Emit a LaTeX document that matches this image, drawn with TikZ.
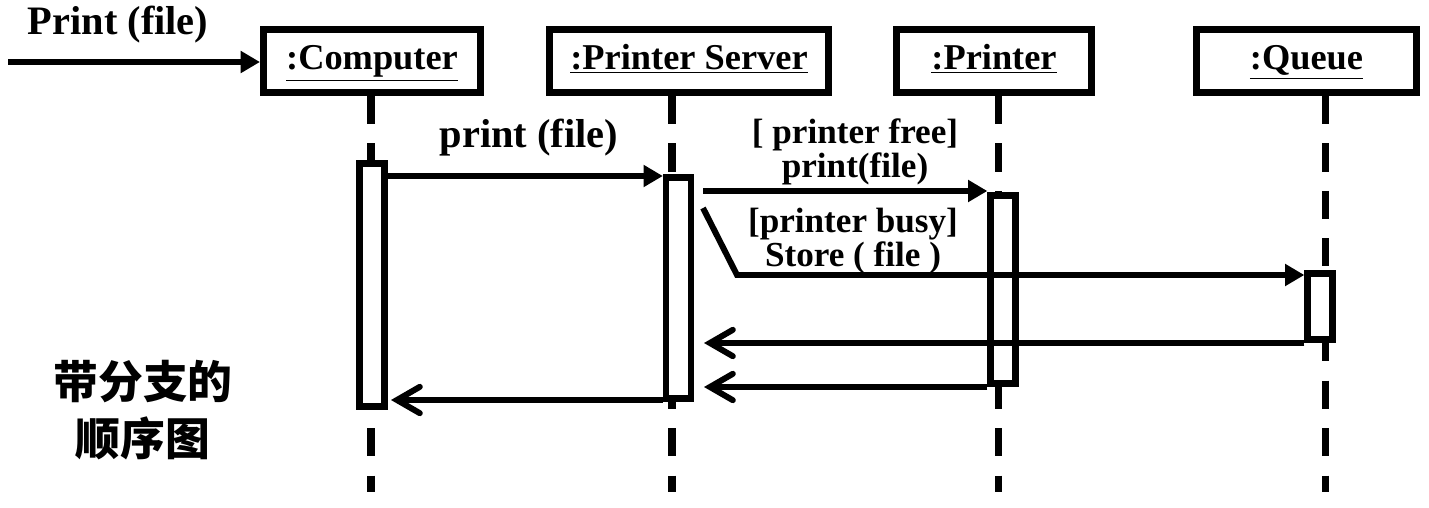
\documentclass[tikz,border=0pt]{standalone}
\usepackage{fontspec}
\setmainfont{Liberation Serif}
\newfontfamily\cjk{Noto Sans CJK SC}
\usetikzlibrary{arrows.meta}

\tikzset{
  obj/.style={draw, line width=4pt, inner sep=0pt, text height=14pt, text depth=4pt,
    font=\fontsize{20.7pt}{22pt}\selectfont\bfseries},
  act/.style={draw, line width=3.6pt, fill=white, inner sep=0pt, minimum width=25*0.02cm},
  life/.style={line width=4pt, dash pattern=on 16pt off 11pt},
  msg/.style={line width=3.4pt, -{Triangle[length=11pt,width=12pt]}},
  back/.style={line width=3.4pt, -{Straight Barb[length=13pt,width=15pt,line cap=round]}},
  lbl/.style={inner sep=0pt, align=center, font=\fontsize{20pt}{19.5pt}\selectfont\bfseries},
  biglbl/.style={inner sep=0pt, font=\fontsize{23pt}{24pt}\selectfont\bfseries}
}

\begin{document}
\begin{tikzpicture}[x=0.02cm, y=-0.02cm]
            \useasboundingbox (0,0) rectangle (1429,507);
            % objects
            \node[obj, minimum width=217*0.02cm, minimum height=63*0.02cm] (comp) at (372,61) {\underline{:Computer}};
            \node[obj, minimum width=279*0.02cm, minimum height=63*0.02cm] (srv) at (689,61) {\underline{:Printer Server}};
            \node[obj, minimum width=195*0.02cm, minimum height=63*0.02cm] (prn) at (994,61) {\underline{:Printer}};
            \node[obj, minimum width=220*0.02cm, minimum height=63*0.02cm] (que) at (1306.5,61) {\underline{:Queue}};
            % lifelines
            \coordinate (lcomp) at (371,492);
            \coordinate (lsrv) at (672,492);
            \coordinate (lprn) at (998,492);
            \coordinate (lque) at (1325,492);
            \draw[life] (lcomp |- comp.south) -- (lcomp);
            \draw[life] (lsrv |- srv.south) -- (lsrv);
            \draw[life] (lprn |- prn.south) -- (lprn);
            \draw[life] (lque |- que.south) -- (lque);
            % activations
            \node[act, minimum height=243*0.02cm] (acomp) at (372,285) {};
            \node[act, minimum height=221*0.02cm] (asrv) at (678.5,288) {};
            \node[act, minimum height=188*0.02cm] (aprn) at (1003,289.5) {};
            \node[act, minimum height=66*0.02cm] (aque) at (1320,306.5) {};
            % messages
            \coordinate (start) at (8,62);
            \draw[msg] (start) -- (comp.west |- start);
            \node[biglbl] (m0) at (118,25) {Print (file)};
            \draw[msg] (acomp.east |- 0,176) -- (asrv.west |- 0,176);
            \node[biglbl] (m1) at (529,138) {print (file)};
            \coordinate (free) at (703,191);
            \draw[msg] (free) -- (aprn.west |- free);
            \node[lbl] (m2) at (855,152) {[ printer free]\\print(file)};
            \coordinate (busy) at (703,208);
            \coordinate (bend) at (737,275);
            \draw[msg] (busy) -- (bend) -- (aque.west |- bend);
            \node[lbl] (m3) at (853,241) {[printer busy]\\Store ( file )};
            % returns
            \draw[back] (aque.west |- 0,343) -- (704,343);
            \draw[back] (aprn.west |- 0,387) -- (704,387);
            \draw[back] (asrv.west |- 0,400) -- (391,400);
            % title
            \node[inner sep=0pt, align=center, font=\cjk\bfseries\fontsize{25.5pt}{32pt}\selectfont] (title) at (143,410) {带分支的\\顺序图};
        \end{tikzpicture}
\end{document}
